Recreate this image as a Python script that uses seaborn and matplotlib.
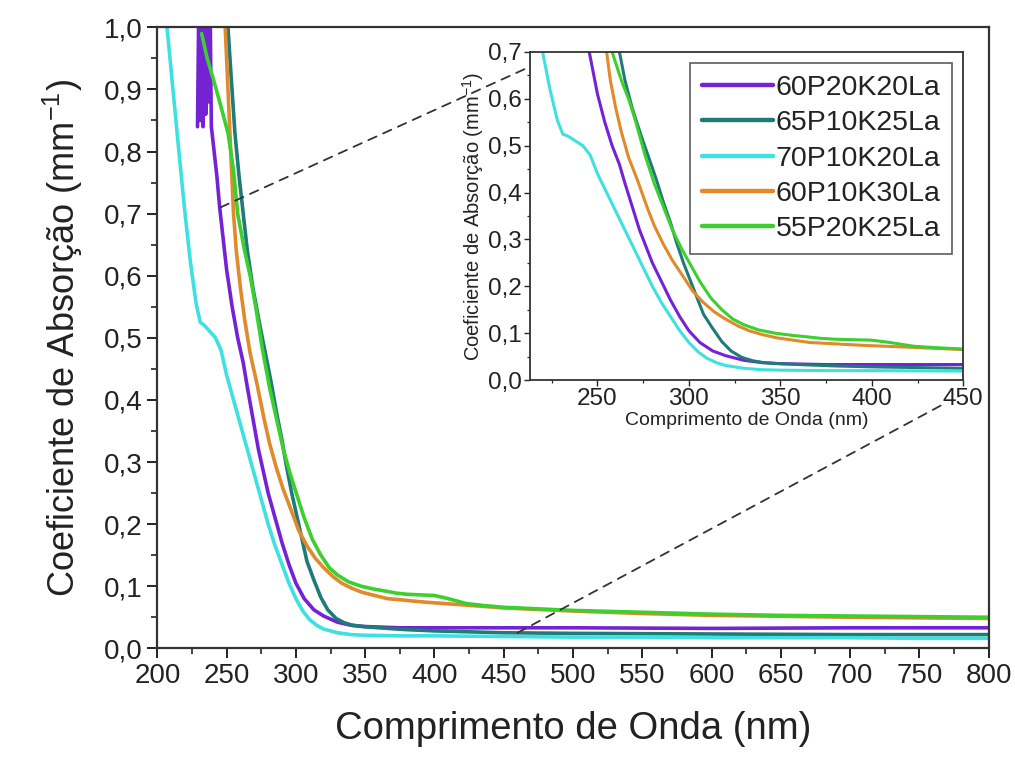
import matplotlib
matplotlib.use("Agg")
import matplotlib.pyplot as plt
import seaborn as sns
from matplotlib.ticker import MultipleLocator, FuncFormatter
from matplotlib.patches import ConnectionPatch

# series (wavelength nm, absorption coefficient mm^-1)
labels = ["60P20K20La", "65P10K25La", "70P10K20La", "60P10K30La", "55P20K25La"]
colors = ["#7422d4", "#1f7b78", "#3fe0e0", "#e08a2c", "#3ccf2e"]

x_60P20K20 = [229, 230, 231, 232, 233, 234, 235, 236, 237, 238, 239, 241, 243, 245, 247,
              250, 254, 258, 262, 265, 269, 273, 280, 285, 290, 295, 300, 306, 313, 320,
              330, 340, 350, 375, 400, 500, 600, 700, 800]
y_60P20K20 = [0.84, 1.05, 0.85, 1.05, 0.84, 1.05, 0.86, 1.05, 0.88, 1.05, 0.84, 0.80, 0.76,
              0.71, 0.67, 0.61, 0.55, 0.50, 0.46, 0.42, 0.37, 0.32, 0.25, 0.21, 0.17, 0.135,
              0.105, 0.08, 0.062, 0.052, 0.042, 0.037, 0.035, 0.033, 0.033, 0.033, 0.032,
              0.033, 0.033]

x_65P10K25 = [251, 253, 256, 259, 262, 265, 269, 274, 278, 282, 286, 290, 293, 297, 301,
              305, 308, 313, 318, 323, 329, 335, 341, 348, 360, 380, 400, 450, 500, 600,
              700, 800]
y_65P10K25 = [1.0, 0.93, 0.83, 0.76, 0.70, 0.64, 0.58, 0.52, 0.475, 0.43, 0.38, 0.335,
              0.296, 0.25, 0.21, 0.17, 0.14, 0.11, 0.082, 0.062, 0.048, 0.041, 0.037, 0.035,
              0.033, 0.03, 0.028, 0.025, 0.024, 0.023, 0.022, 0.022]

x_70P10K20 = [207, 210, 213, 216, 220, 224, 228, 231, 234, 238, 242, 246, 250, 255, 260,
              265, 270, 275, 280, 285, 290, 295, 300, 305, 310, 315, 320, 330, 340, 350,
              375, 400, 450, 500, 550, 600, 650, 700, 750, 800]
y_70P10K20 = [1.0, 0.93, 0.86, 0.79, 0.70, 0.62, 0.555, 0.525, 0.52, 0.51, 0.50, 0.48,
              0.44, 0.40, 0.36, 0.32, 0.28, 0.24, 0.20, 0.165, 0.135, 0.105, 0.08, 0.06,
              0.046, 0.037, 0.031, 0.025, 0.022, 0.021, 0.02, 0.02, 0.019, 0.018, 0.018,
              0.017, 0.017, 0.017, 0.016, 0.016]

x_60P10K30 = [249, 251, 253, 255, 257, 260, 263, 267, 272, 277, 281, 286, 291, 297, 302,
              308, 314, 320, 327, 333, 340, 348, 357, 366, 376, 385, 395, 420, 450, 500,
              550, 600, 700, 800]
y_60P10K30 = [1.0, 0.90, 0.80, 0.70, 0.64, 0.58, 0.53, 0.475, 0.425, 0.37, 0.33, 0.29,
              0.255, 0.22, 0.19, 0.165, 0.145, 0.13, 0.115, 0.105, 0.097, 0.09, 0.085,
              0.08, 0.078, 0.076, 0.074, 0.07, 0.065, 0.06, 0.056, 0.053, 0.05, 0.048]

x_55P20K25 = [232, 236, 240, 245, 251, 255, 258, 263, 267, 271, 276, 281, 286, 291, 296,
              301, 306, 312, 318, 324, 330, 338, 347, 357, 365, 372, 380, 390, 400, 410,
              423, 435, 450, 500, 550, 600, 650, 700, 750, 800]
y_55P20K25 = [0.99, 0.95, 0.92, 0.88, 0.83, 0.77, 0.70, 0.64, 0.60, 0.55, 0.48, 0.42,
              0.37, 0.32, 0.28, 0.245, 0.21, 0.175, 0.15, 0.13, 0.118, 0.107, 0.1, 0.095,
              0.092, 0.089, 0.087, 0.086, 0.085, 0.08, 0.072, 0.069, 0.066, 0.061, 0.058,
              0.055, 0.053, 0.052, 0.051, 0.05]

series = [(x_60P20K20, y_60P20K20), (x_65P10K25, y_65P10K25), (x_70P10K20, y_70P10K20),
          (x_60P10K30, y_60P10K30), (x_55P20K25, y_55P20K25)]

sns.set_style("ticks")
plt.rcParams['font.family'] = ['Liberation Sans', 'DejaVu Sans']
plt.rcParams['mathtext.default'] = 'regular'

comma = FuncFormatter(lambda v, p: f"{v:.1f}".replace(".", ","))

fig = plt.figure(figsize=(10.15, 7.6), dpi=100)
ax = fig.add_axes([0.155, 0.147, 0.819, 0.817])

for (xs, ys), lab, c in zip(series, labels, colors):
    sns.lineplot(x=xs, y=ys, ax=ax, color=c, lw=2.6, label=lab, legend=False)

ax.set_xlim(200, 800)
ax.set_ylim(0, 1.0)
ax.xaxis.set_major_locator(MultipleLocator(50))
ax.xaxis.set_minor_locator(MultipleLocator(25))
ax.yaxis.set_major_locator(MultipleLocator(0.1))
ax.yaxis.set_minor_locator(MultipleLocator(0.05))
ax.yaxis.set_major_formatter(comma)
ax.tick_params(which="major", length=7, width=1.4, labelsize=20, color="#222222",
               labelcolor="#222222")
ax.tick_params(which="minor", length=4, width=1.2, color="#222222")
for s in ax.spines.values():
    s.set_linewidth(1.6)
    s.set_color("#333333")
ax.set_xlabel("Comprimento de Onda (nm)", fontsize=27.5, labelpad=16, color="#222222")
ax.set_ylabel("Coeficiente de Absorção (mm$^{-1}$)", fontsize=26, labelpad=14,
              color="#222222")

# inset
ins = fig.add_axes([0.522, 0.5, 0.427, 0.4316])
for (xs, ys), lab, c in zip(series, labels, colors):
    sns.lineplot(x=xs, y=ys, ax=ins, color=c, lw=2.2, label=lab, legend=False)
ins.set_xlim(213, 450)
ins.set_ylim(0, 0.7)
ins.xaxis.set_major_locator(MultipleLocator(50))
ins.xaxis.set_minor_locator(MultipleLocator(25))
ins.yaxis.set_major_locator(MultipleLocator(0.1))
ins.yaxis.set_minor_locator(MultipleLocator(0.05))
ins.yaxis.set_major_formatter(comma)
ins.tick_params(which="major", length=4, width=1, labelsize=17.5, pad=2,
                labelcolor="#222222")
ins.tick_params(which="minor", length=2.5, width=0.9)
for s in ins.spines.values():
    s.set_linewidth(1.3)
    s.set_color("#333333")
ins.set_xlabel("Comprimento de Onda (nm)", fontsize=14, labelpad=1, color="#222222")
ins.set_ylabel("Coeficiente de Absorção (mm$^{-1}$)", fontsize=14.5, labelpad=1,
               color="#222222")
leg = ins.legend(loc="upper right", fontsize=20.5, handlelength=2.5, handletextpad=0.1,
                 labelspacing=0.33, fancybox=False, edgecolor="#333333",
                 borderaxespad=0.4, borderpad=0.4)
leg.get_frame().set_linewidth(1.2)
for t in leg.get_texts():
    t.set_color("#222222")
for h in leg.get_lines():
    h.set_linewidth(3.2)

# dashed zoom connectors
for pa, pb in [((245.5, 0.71), (0, 0.955)), ((460, 0.025), (0.951, -0.076))]:
    con = ConnectionPatch(xyA=pa, coordsA=ax.transData, xyB=pb, coordsB=ins.transAxes,
                          ls=(0, (5, 4)), lw=1.3, color="#333333")
    fig.add_artist(con)

fig.savefig("out.png", dpi=100)
